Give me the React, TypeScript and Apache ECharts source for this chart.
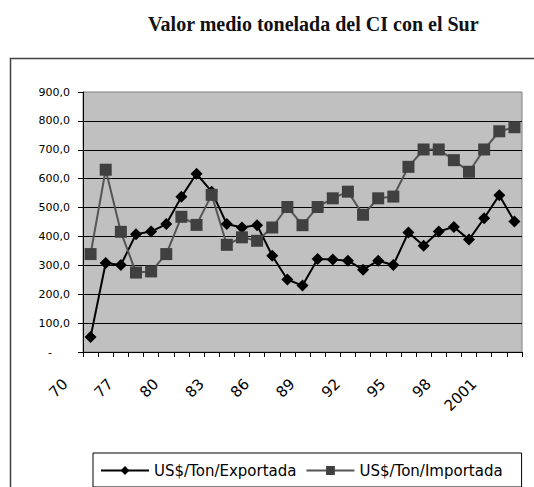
import React, { useEffect, useRef } from "react";
import * as echarts from "echarts";

const years = ["70","75","76","77","78","79","80","81","82","83","84","85","86","87","88","89","90","91","92","93","94","95","96","97","98","99","2000","2001","2002"];
const exportada = [52, 308, 301, 408, 417, 443, 537, 617, 555, 443, 431, 439, 333, 251, 230, 322, 320, 316, 285, 316, 301, 414, 368, 417, 433, 389, 463, 543, 452];
const importada = [339, 631, 416, 275, 279, 339, 468, 440, 544, 371, 397, 385, 431, 502, 439, 502, 532, 555, 475, 532, 538, 641, 701, 701, 664, 624, 701, 764, 778];
const seriesNames = ["US$/Ton/Exportada", "US$/Ton/Importada"];
const titleText = "Valor medio tonelada del CI con el Sur";

export default function App() {
  const ref = useRef<HTMLDivElement>(null);
  useEffect(() => {
    if (!ref.current) return;
    const chart = echarts.init(ref.current, null, { renderer: "svg" });
    const font = "DejaVu Sans";
    chart.setOption({
      animation: false,
      backgroundColor: "#fff",
      title: {
        text: titleText,
        left: 143,
        top: 9,
        textStyle: { fontFamily: "Liberation Serif", fontSize: 20, fontWeight: "bold", color: "#111" },
      },
      graphic: [
        {
          type: "rect",
          shape: { x: 10.5, y: 58.5, width: 600, height: 600 },
          style: { fill: "transparent", stroke: "#404040", lineWidth: 1.5 },
          silent: true,
        },
      ],
      legend: {
        left: 93,
        top: 453,
        padding: [10, 19, 9, 7],
        borderColor: "#000",
        borderWidth: 1,
        backgroundColor: "#fff",
        itemWidth: 48,
        itemHeight: 11,
        itemGap: 9,
        textStyle: { fontFamily: font, fontSize: 15, color: "#000" },
        data: seriesNames,
      },
      grid: {
        left: 83,
        top: 92,
        right: 12,
        bottom: 135,
        show: true,
        backgroundColor: "#c0c0c0",
        borderColor: "#808080",
        borderWidth: 1,
      },
      xAxis: {
        type: "category",
        data: years,
        boundaryGap: true,
        axisLine: { lineStyle: { color: "#000", width: 1 } },
        axisTick: { show: true, interval: 0, length: 5, lineStyle: { color: "#000" } },
        axisLabel: {
          interval: 2,
          rotate: 45,
          margin: 4,
          padding: [0, 36, 0, 0],
          fontFamily: font,
          fontSize: 15,
          color: "#000",
        },
      },
      yAxis: {
        type: "value",
        min: 0,
        max: 900,
        interval: 100,
        axisLine: { show: true, lineStyle: { color: "#000", width: 1 } },
        axisTick: { show: true, length: 5, lineStyle: { color: "#000" } },
        splitLine: { show: true, showMaxLine: false, lineStyle: { color: "#000", width: 1 } },
        axisLabel: {
          margin: 13,
          fontFamily: font,
          fontSize: 11,
          color: "#000",
          formatter: (v: number) => (v === 0 ? "{z|-}" : v.toFixed(1).replace(".", ",")),
          rich: { z: { fontFamily: font, fontSize: 11, color: "#000", padding: [0, 18, 0, 0] } },
        },
      },
      series: [
        {
          name: seriesNames[0],
          type: "line",
          data: exportada,
          symbol: "diamond",
          symbolSize: 12,
          showAllSymbol: true,
          itemStyle: { color: "#000" },
          lineStyle: { color: "#000", width: 2 },
        },
        {
          name: seriesNames[1],
          type: "line",
          data: importada,
          symbol: "rect",
          symbolSize: 12,
          showAllSymbol: true,
          itemStyle: { color: "#404040" },
          lineStyle: { color: "#555", width: 2 },
        },
      ],
    });
    return () => chart.dispose();
  }, []);
  return <div ref={ref} style={{ position: "absolute", left: 0, top: 0, width: 534, height: 487 }} />;
}
